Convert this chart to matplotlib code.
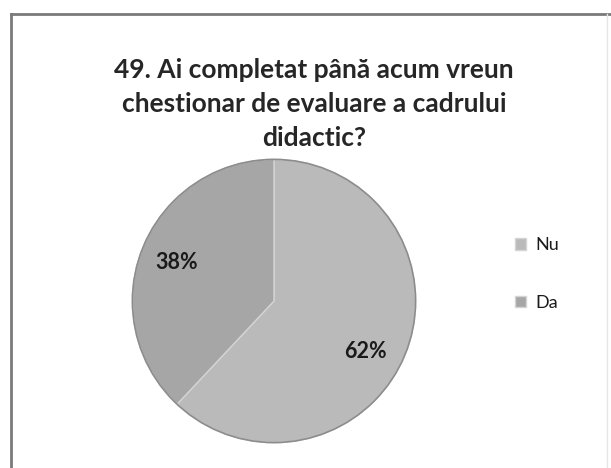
import matplotlib
matplotlib.use("Agg")
import matplotlib.pyplot as plt
import numpy as np
from matplotlib.lines import Line2D

labels = ["Nu", "Da"]
values = [62, 38]
colors = ["#bababa", "#a6a6a6"]
title = "49. Ai completat până acum vreun\nchestionar de evaluare a cadrului\ndidactic?"

W, H = 611, 468
fig = plt.figure(figsize=(W / 100, H / 100), dpi=100)
fig.patch.set_facecolor("white")

# frame lines
fig.add_artist(Line2D([11 / W, 11 / W], [0, 1 - 14 / H], transform=fig.transFigure, color="#7a7a7a", lw=2))
fig.add_artist(Line2D([11 / W, 1], [1 - 14 / H, 1 - 14 / H], transform=fig.transFigure, color="#7a7a7a", lw=2))
fig.add_artist(Line2D([607 / W, 607 / W], [0, 1 - 14 / H], transform=fig.transFigure, color="#e6e6e6", lw=1))

fig.text(314 / W, 1 - 104 / H, title, ha="center", va="center", fontsize=19,
         family="Lato", fontweight="bold", linespacing=1.5, color="#262626")

cx, cy, r = 274, 301, 143
ax = fig.add_axes([(cx - r) / W, (H - cy - r) / H, 2 * r / W, 2 * r / H])
wedges, texts, autotexts = ax.pie(values, colors=colors, startangle=90, counterclock=False,
                                  autopct="%1.0f%%", pctdistance=0.74,
                                  wedgeprops=dict(edgecolor="#d4d4d4", linewidth=1),
                                  textprops=dict(fontsize=15.5, family="Lato", fontweight="bold",
                                                 color="#1a1a1a"))
# label placement nudge for the larger slice (as in the reference)
ang = np.deg2rad(-28.7)
autotexts[0].set_position((0.74 * np.cos(ang), 0.74 * np.sin(ang)))

circle = plt.Circle((0, 0), 1, fill=False, edgecolor="#8c8c8c", lw=1.2)
ax.add_patch(circle)
ax.set_xlim(-1.01, 1.01)
ax.set_ylim(-1.01, 1.01)
ax.set_aspect("equal")
ax.axis("off")

leg = fig.legend(wedges, labels, loc="center left", bbox_to_anchor=(499 / W, 1 - 274 / H),
                 frameon=False, prop=dict(family="Lato", size=13),
                 handlelength=0.6, handleheight=0.6, handletextpad=0.5, labelspacing=2.3)
for t in leg.get_texts():
    t.set_color("#1a1a1a")

fig.savefig("out.png", dpi=100)
